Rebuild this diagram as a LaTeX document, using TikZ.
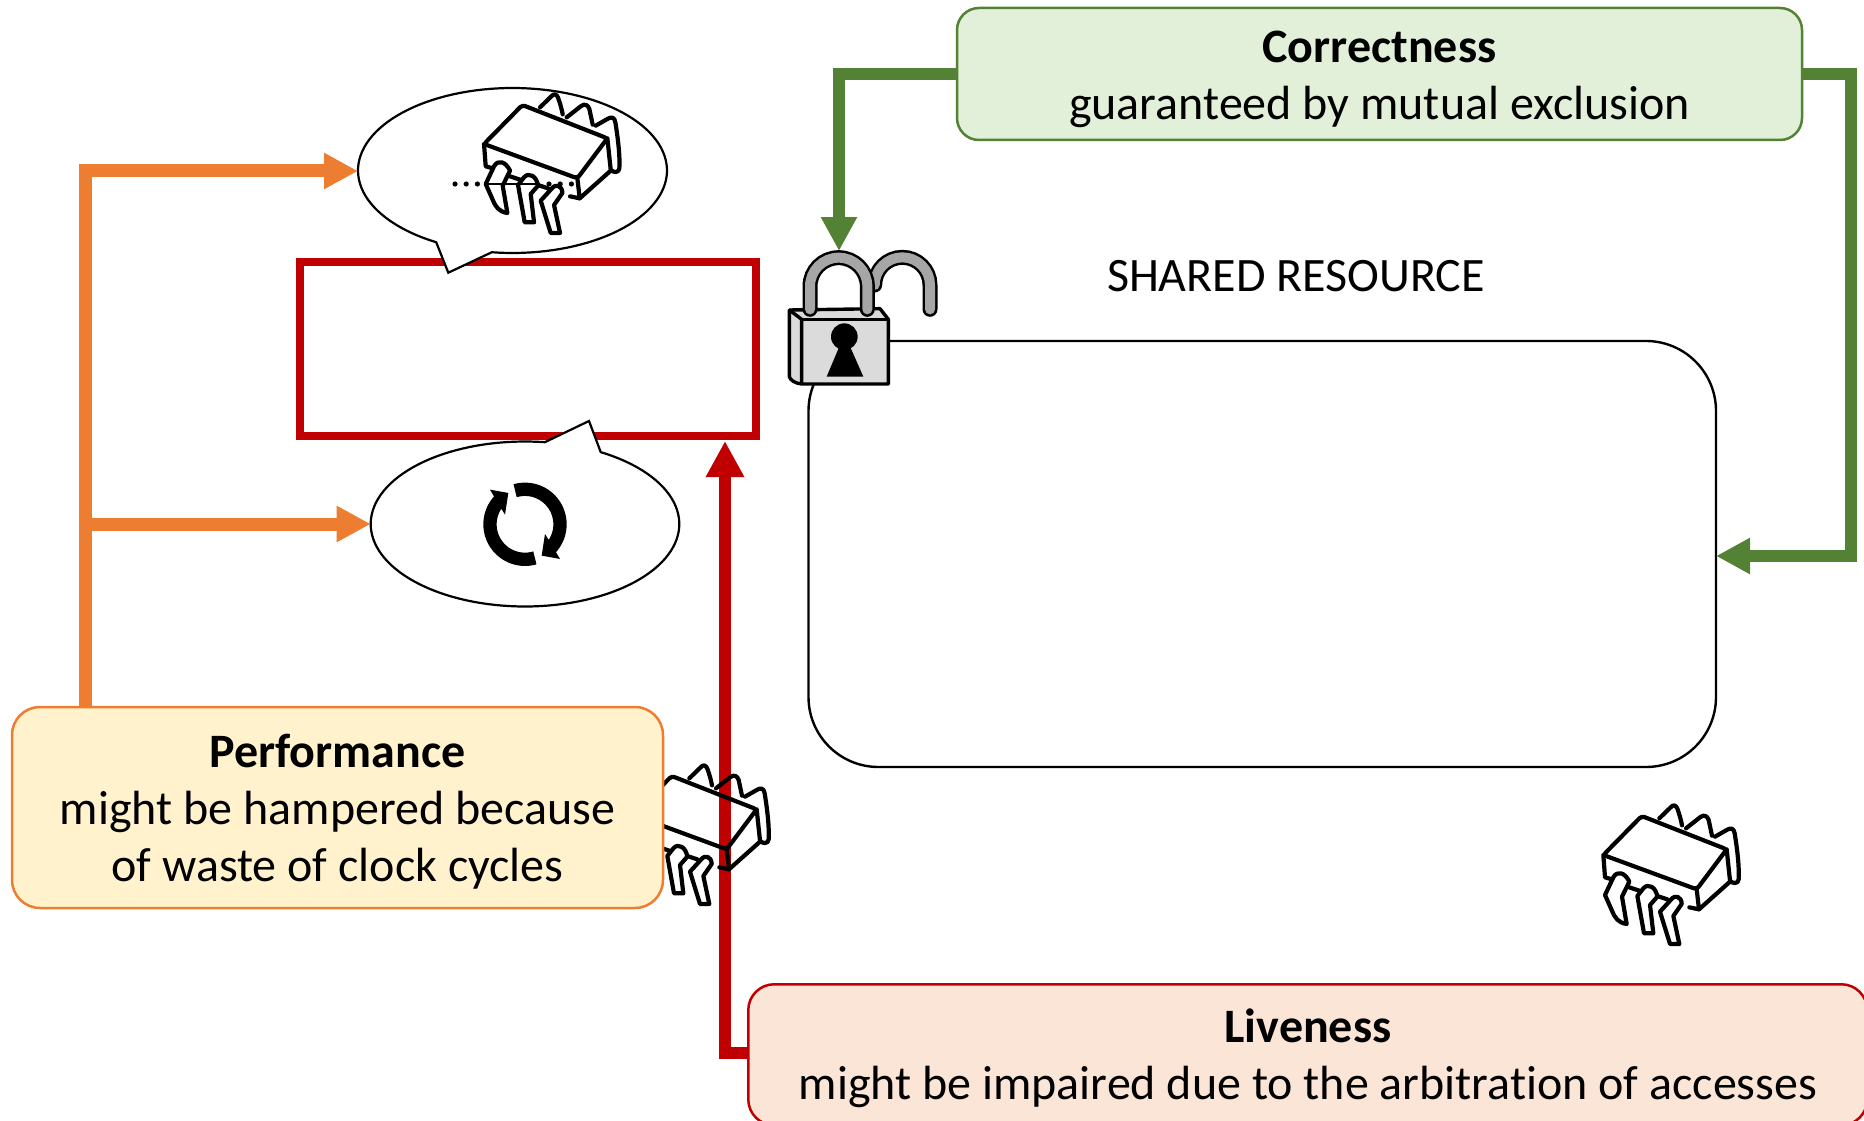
\documentclass[tikz,border=0pt]{standalone}
\usepackage{fontspec}
\setmainfont[Ligatures=CommonOff]{Carlito}
\usetikzlibrary{arrows.meta}
\definecolor{orangeL}{HTML}{ED7D31}
\definecolor{greenL}{HTML}{548235}
\definecolor{redL}{HTML}{C00000}
\definecolor{perfFill}{HTML}{FFF2CC}
\definecolor{corrFill}{HTML}{E2F0D9}
\definecolor{liveFill}{HTML}{FBE5D6}
\tikzset{
 textbox/.style={rectangle,rounded corners=#1,line width=2.5pt,inner sep=0pt},
 textbox/.default=28pt,
 label/.style={font=\fontsize{48pt}{57pt}\selectfont,align=center,inner sep=0pt},
 conn/.style={line width=#1,-{Triangle[length=34pt,width=34pt]},line join=miter},
 bubble/.style={draw=black,fill=white,line width=2.2pt,line join=miter},
 pics/chip/.style={code={
  \begin{scope}[line width=4.2pt,line join=round,line cap=round,scale=1/3]
   % body
   \draw[rounded corners=3pt] (70,195) -- (185,78) -- (440,178) -- (350,298) -- cycle;
   \draw (70,195) -- (75,262) -- (96,268);
   \draw (350,298) -- (357,358) -- (328,352);
   \draw (148,292) -- (178,302);
   \draw (232,318) -- (262,328);
   \draw (357,358) -- (450,275);
   % rear legs
   \draw (238,85) -- (272,52) .. controls (280,42) and (288,46) .. (292,56) .. controls (298,72) and (303,90) .. (306,106);
   \draw (318,115) -- (360,82) .. controls (372,72) and (382,78) .. (386,90) -- (396,137);
   \draw (405,140) -- (440,120) .. controls (452,112) and (462,115) .. (464,130) .. controls (472,180) and (478,230) .. (476,268) .. controls (475,282) and (458,282) .. (450,272) -- (440,178);
   % front legs
   \draw (75,315) -- (100,262) .. controls (112,240) and (135,248) .. (148,275) -- (126,320) -- (140,402) .. controls (115,398) and (105,385) .. (95,360) -- cycle;
   \draw (172,318) -- (190,295) .. controls (205,278) and (228,292) .. (232,320) -- (210,345) -- (220,430) -- (192,430) -- cycle;
   \draw (240,365) -- (272,330) .. controls (285,312) and (305,320) .. (305,342) -- (280,378) -- (298,462) -- (270,462) -- cycle;
  \end{scope}
 }},
}
\begin{document}
\begin{tikzpicture}[x=1pt,y=-1pt]
\useasboundingbox (0,0) rectangle (1864,1121);

% shared resource
\draw[line width=2.4pt,rounded corners=70pt] (808.5,341) rectangle (1716,767);
\coordinate (srE) at (1716,556);
\node[label] (srlabel) at (1296,276) {SHARED RESOURCE};

% red box
\node[draw=redL,line width=8pt,minimum width=456pt,minimum height=174pt,inner sep=0pt] (cs) at (528,349) {};

% anchors
\coordinate (b1W) at (358,171);
\coordinate (b2W) at (370.7,524);
\coordinate (csS) at (725,441);
\coordinate (lockN) at (839,251);

\draw[bubble] plot[domain=119.6:457.7,samples=120] ({512.5+154.5*cos(\x)},{170.5+82.5*sin(\x)}) -- (448.3,272.7) -- cycle;
\draw[bubble] plot[domain=299.4:637.4,samples=120] ({525+154.3*cos(\x)},{524+82.5*sin(\x)}) -- (589,421) -- cycle;

% dots in thought bubble
\foreach \i in {0,...,2} \fill (455+\i*11.2,184) circle (2.6pt);
\foreach \i in {0,...,2} \fill (549+\i*11.2,184) circle (2.6pt);
\draw[line width=2.5pt] (486,184) -- (538,184);

% cycle icon
\begin{scope}[shift={(525,524.3)},scale=1/3]
 \foreach \r in {0,180}{
 \begin{scope}[rotate=\r]
 \fill plot[domain=-106:42,samples=50] ({125*cos(\x)},{125*sin(\x)}) -- (105,104) -- (50,94) -- (60,29) -- (70,45) -- plot[domain=33:-107,samples=50] ({85*cos(\x)},{85*sin(\x)}) -- cycle;
 \end{scope}}
\end{scope}

% lock
\begin{scope}[shift={(760,230)},scale=1/3]
 \draw[line width=15pt,line cap=round] (510,238) -- (510,165) arc[start angle=0,end angle=180,radius=83pt] ;
 \draw[line width=10pt,line cap=round,black!35] (510,238) -- (510,165) arc[start angle=0,end angle=180,radius=83pt];
 \draw[fill=black!14,line width=3.4pt,line join=round] (88,240) -- (360,236) -- (385,268) -- (385,462) -- (125,462) .. controls (105,460) and (90,450) .. (88,440) -- cycle;
 \draw[line width=3.4pt] (125,268) -- (385,268);
 \draw[line width=3.4pt] (125,268) -- (125,462) (88,240) -- (125,268);
 \draw[line width=15pt,line cap=round] (150,238) -- (150,169) arc[start angle=180,end angle=0,radius=86pt] -- (322,238);
 \draw[line width=10pt,line cap=round,black!35] (150,238) -- (150,169) arc[start angle=180,end angle=0,radius=86pt] -- (322,238);
 \fill (253,320) circle (40pt);
 \fill (240,345) -- (200,440) -- (310,440) -- (268,345) -- cycle;
\end{scope}

% boxes
\node[textbox=22pt,draw=greenL,fill=corrFill,minimum width=845pt,minimum height=132pt] (corr) at (1379.5,74) {};
\node[textbox=26pt,draw=redL,fill=liveFill,minimum width=1119pt,minimum height=141pt,anchor=north west] (live) at (747,983) {};

% red connector
\draw[line width=12pt,redL,-{Triangle[length=36pt,width=36pt]},line join=miter] (live.west |- 0,1053) -| (csS);

% chips
\pic at (460.7,79) {chip};
\pic at (610,750) {chip};
\pic at (1580,790) {chip};

% performance box sits on top of its chip
\node[textbox=28pt,draw=orangeL,fill=perfFill,minimum width=651pt,minimum height=201pt] (perf) at (337.5,807.5) {};
\node[label] (perftext) at (337.5,812) {\textbf{Performance}\\might be hampered because\\of waste of clock cycles};
\node[label] (corrtext) at (1379.5,79.5) {\textbf{Correctness}\\guaranteed by mutual exclusion};
\node[label] (livetext) at (1308,1058) {\textbf{Liveness}\\might be impaired due to the arbitration of accesses};

% orange and green connectors
\draw[conn=13pt,orangeL] (perf.north -| 85.6,0) |- (b1W);
\draw[conn=13pt,orangeL] (85.6,524) -- (b2W);
\draw[conn=12pt,greenL] (corr.west |- 0,74) -| (lockN);
\draw[conn=12pt,greenL] (corr.east |- 0,74) -- (1851,74) |- (srE);
\end{tikzpicture}
\end{document}
